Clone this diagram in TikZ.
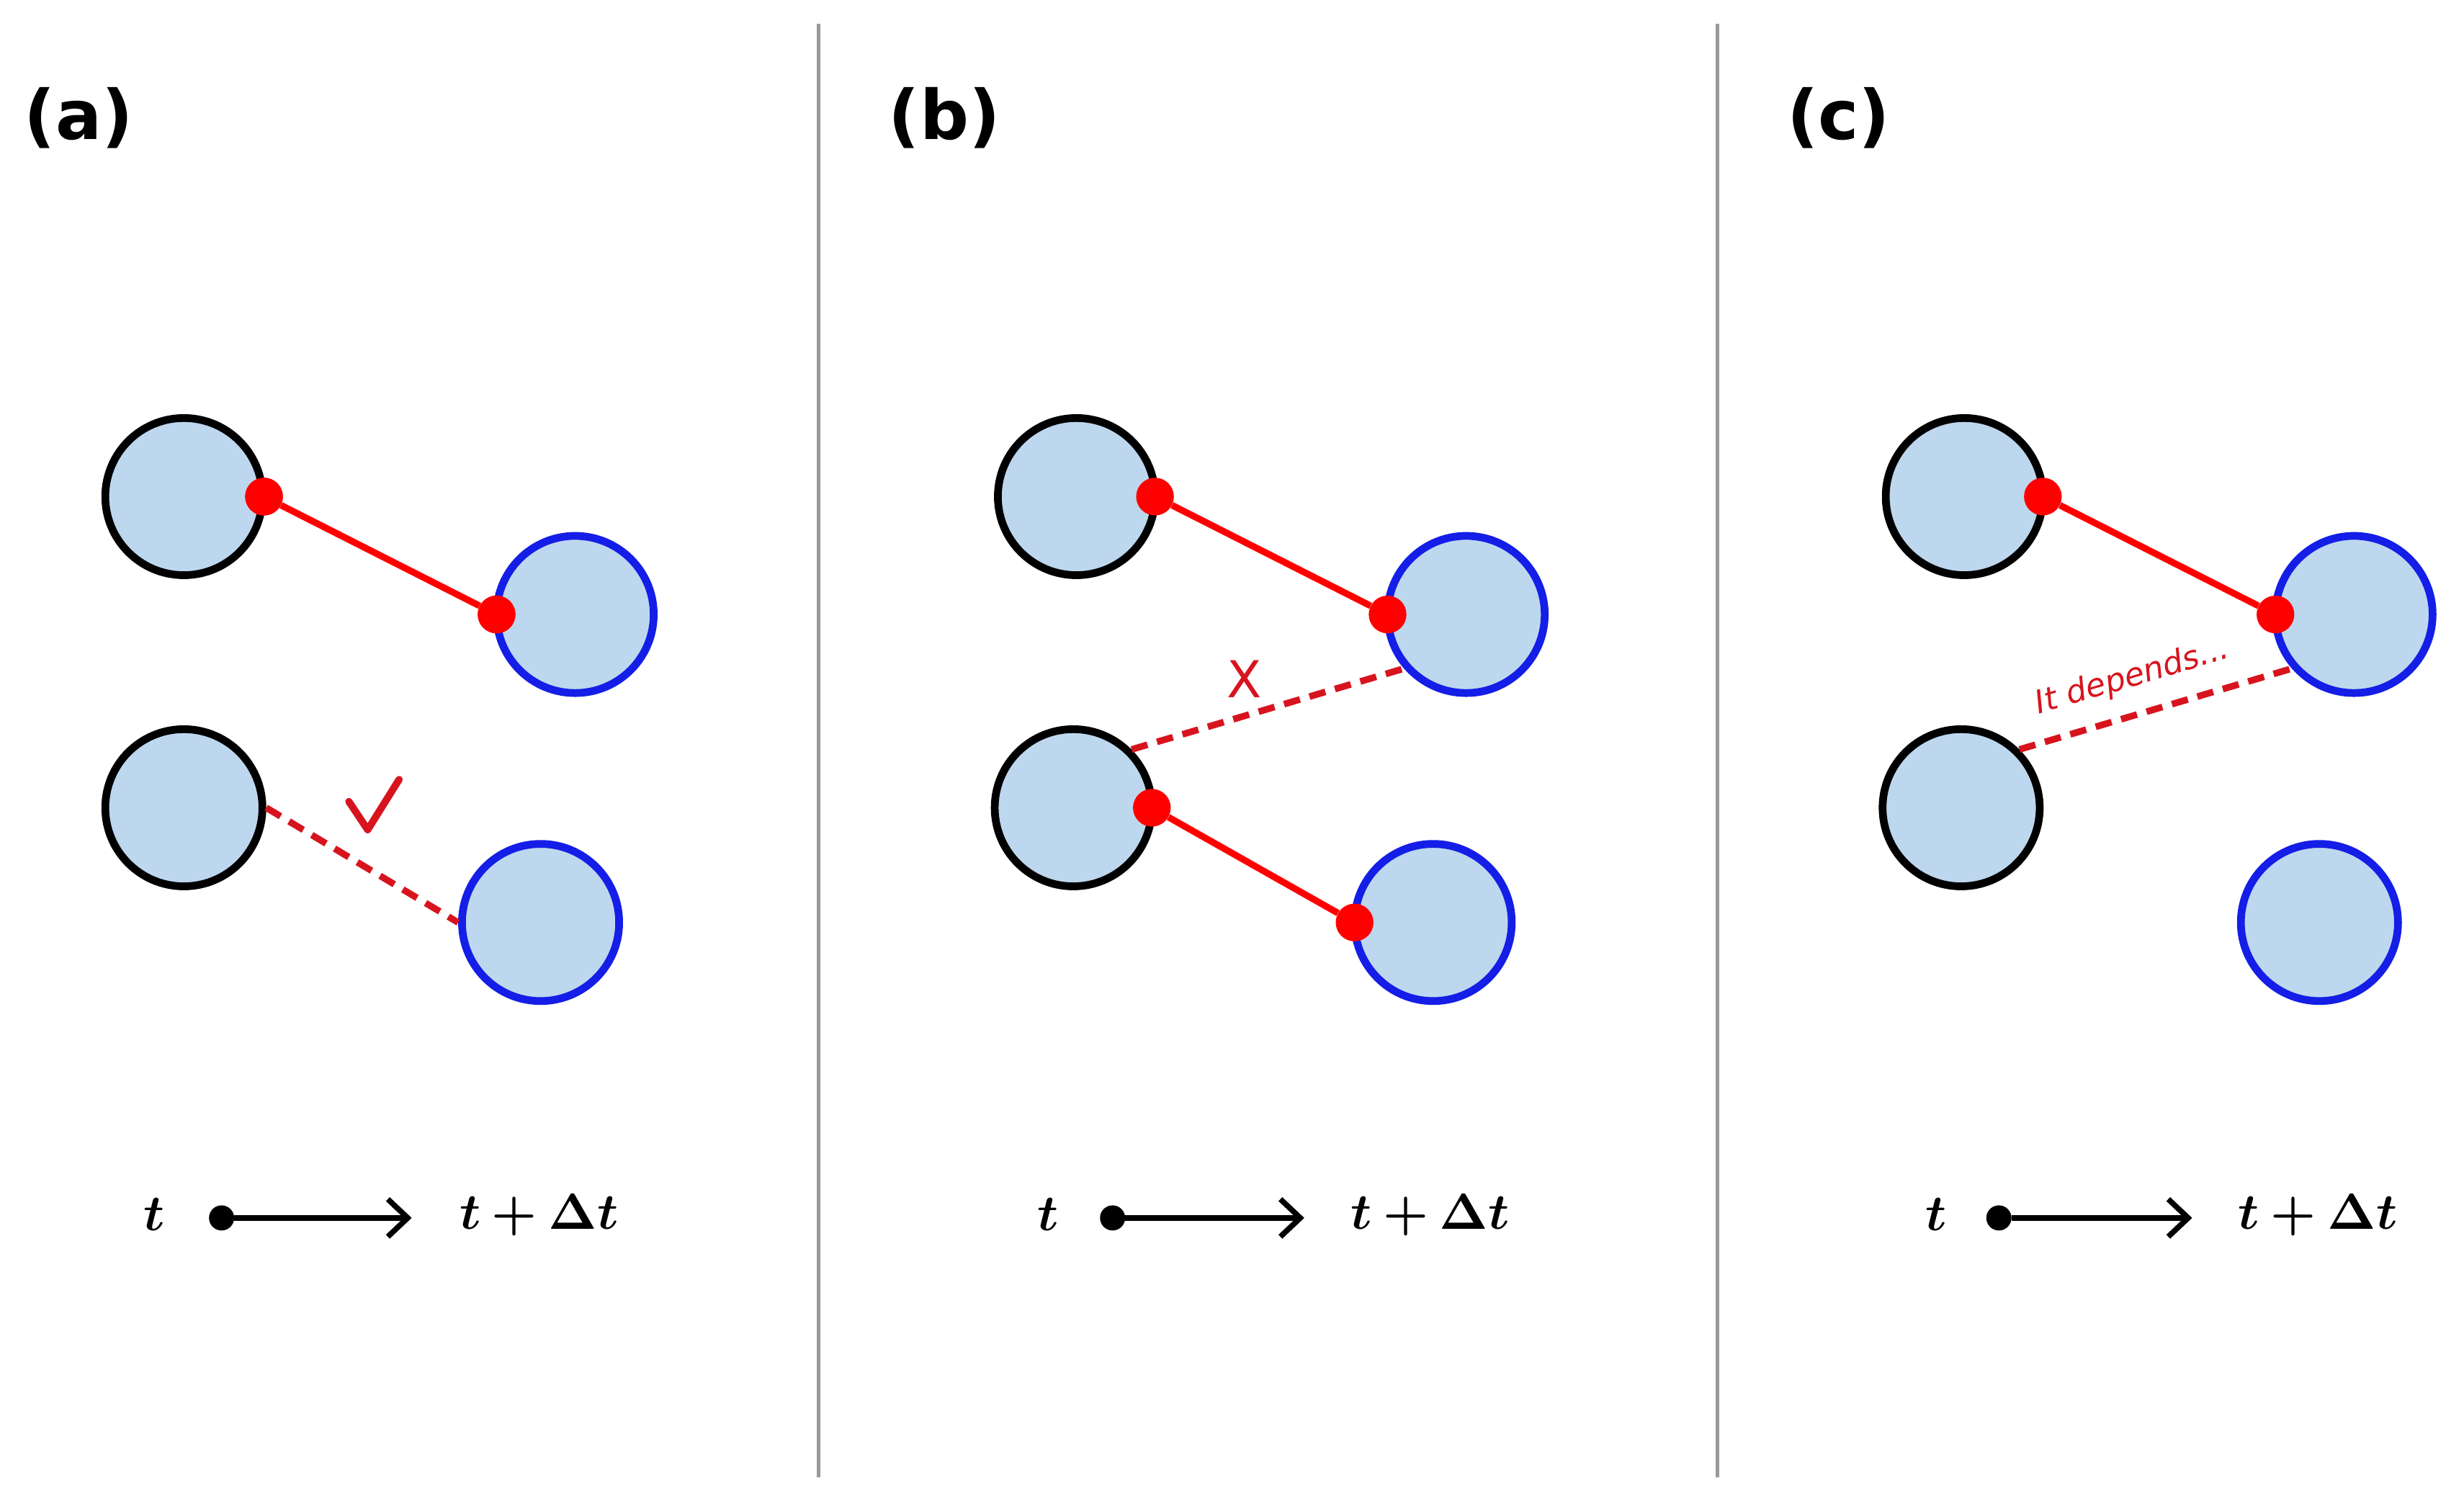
\documentclass[tikz,border=0pt]{standalone}
\usepackage{fontspec}
\setmainfont{DejaVu Sans}
\usepackage{amsmath,bm}
\usetikzlibrary{arrows.meta}
\begin{document}
\begin{tikzpicture}[x=0.5mm,y=-0.5mm,
 blk/.style={circle,draw=black,fill=lightb,line width=7pt,minimum size=50mm,inner sep=0},
 blu/.style={circle,draw=blueb,fill=lightb,line width=7pt,minimum size=50mm,inner sep=0},
 dot/.style={circle,fill=red,minimum size=12mm,inner sep=0},
 bond/.style={draw=red,line width=6pt},
 dbond/.style={draw=redd,line width=6pt,dash pattern=on 15pt off 9pt},
 lab/.style={font=\fontsize{62}{66}\selectfont\bfseries},
 tm/.style={scale=4.6},
 arr/.style={line width=5pt,-{Straight Barb[length=18pt,width=34pt,line width=5pt]}},
 sep/.style={draw=gray!80,line width=3pt}]
\definecolor{lightb}{RGB}{189,215,238}
\definecolor{blueb}{RGB}{20,30,230}
\definecolor{redd}{RGB}{215,20,30}
\useasboundingbox (0,0) rectangle (1568,960);
\coordinate (s1a) at (521,15); \coordinate (s1b) at (521,940);
\coordinate (s2a) at (1093,15); \coordinate (s2b) at (1093,940);
\draw[sep] (s1a) -- (s1b); \draw[sep] (s2a) -- (s2b);
\node[lab] (la) at (50,75) {(a)};
\node[lab] (lb) at (601,75) {(b)};
\node[lab] (lc) at (1170,75) {(c)};
% panel a
\node[blk] (a1) at (117,316) {}; \node[blk] (a2) at (117,514) {};
\node[blu] (a3) at (366,391) {}; \node[blu] (a4) at (344,587) {};
\node[dot] (ad1) at (168,316) {}; \node[dot] (ad2) at (316,391) {};
\draw[bond] (ad1) -- (ad2);
\node[dot] at (ad1) {}; \node[dot] at (ad2) {};
\draw[dbond] (a2.east) -- (a4.west);
\coordinate (c1) at (222,510); \coordinate (c2) at (234,528); \coordinate (c3) at (254,496);
\draw[draw=redd,line width=6.5pt,line cap=round,line join=round] (c1) -- (c2) -- (c3);
% panel b
\node[blk] (b1) at (685,316) {}; \node[blk] (b2) at (683,514) {};
\node[blu] (b3) at (933,391) {}; \node[blu] (b4) at (912,587) {};
\node[dot] (bd1) at (735,316) {}; \node[dot] (bd2) at (883,391) {};
\node[dot] (bd3) at (733,514) {}; \node[dot] (bd4) at (862,587) {};
\draw[bond] (bd1) -- (bd2); \draw[bond] (bd3) -- (bd4);
\draw[dbond] (b2.45) -- (b3.221);
\node[text=redd,font=\fontsize{46}{48}\selectfont] (bx) at (792,432) {X};
% panel c
\node[blk] (c1n) at (1250,316) {}; \node[blk] (c2n) at (1248,514) {};
\node[blu] (c3n) at (1498,391) {}; \node[blu] (c4n) at (1476,587) {};
\node[dot] (cd1) at (1300,316) {}; \node[dot] (cd2) at (1448,391) {};
\draw[bond] (cd1) -- (cd2);
\draw[dbond] (c2n.45) -- (c3n.221);
\node[text=redd,font=\fontsize{29}{31}\selectfont\itshape,rotate=16.5] (dep) at (1357,431) {It depends...};
% time arrows
\foreach \p/\tx/\dx/\ex/\lx in {a/98/141/262/343, b/667/708/830/910, c/1232/1272/1395/1475}{
  \node[tm] (t\p) at (\tx,773) {$\bm{t}$};
  \node[circle,fill=black,minimum size=8mm,inner sep=0] (d\p) at (\dx,775) {};
  \coordinate (e\p) at (\ex,775);
  \draw[arr] (d\p) -- (e\p);
  \node[tm] (tt\p) at (\lx,773) {$\bm{t+\Delta t}$};
}
\end{tikzpicture}
\end{document}
